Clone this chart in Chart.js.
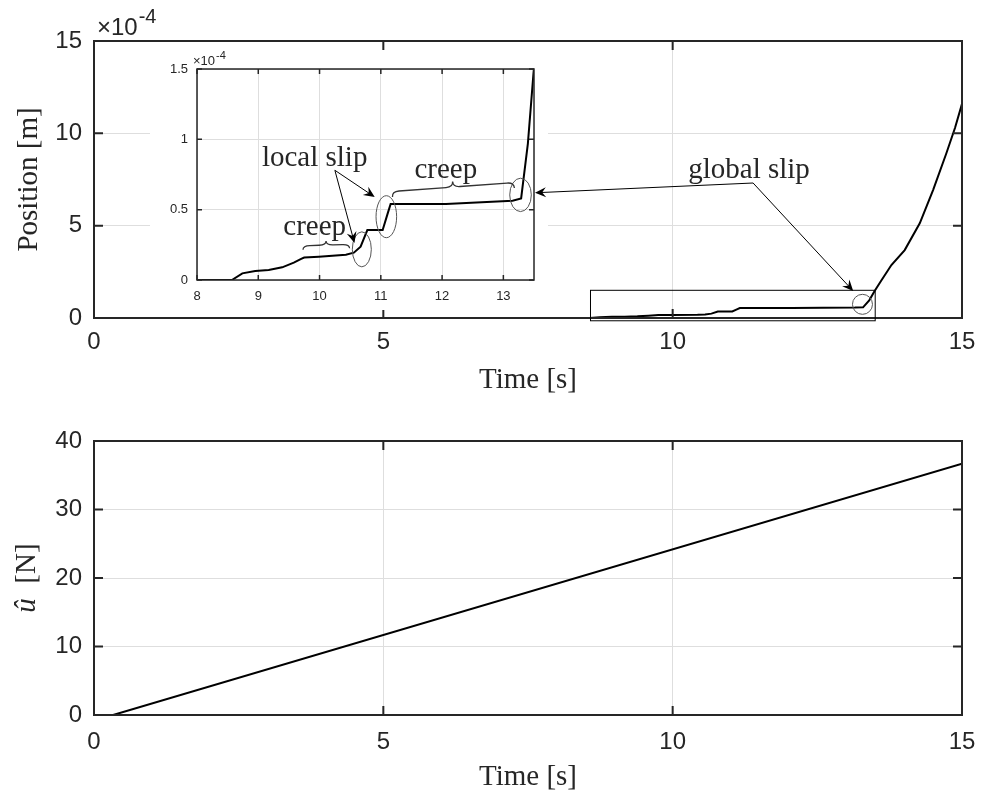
<!DOCTYPE html>
<html>
<head>
<meta charset="utf-8">
<script src="https://cdn.jsdelivr.net/npm/chart.js@4.4.1/dist/chart.umd.min.js"></script>
<style>
  body { margin: 0; background: #fff; }
  #wrap { position: relative; width: 982px; height: 798px; }
  canvas { position: absolute; left: 0; }
</style>
</head>
<body>
<div id="wrap">
  <canvas id="posChart" width="982" height="400" style="top:0"></canvas>
  <canvas id="zoomChart" width="982" height="400" style="top:0"></canvas>
  <canvas id="forceChart" width="982" height="398" style="top:400px"></canvas>
</div>
<script>
// measured block position, in units of 1e-4 m
const timeS = [0, 8.57, 8.74, 8.95, 9.17, 9.39, 9.58, 9.70, 9.75, 9.99, 10.43, 10.56, 10.67, 10.78,
  11.03, 11.11, 11.16, 12.06, 13.15, 13.29, 13.40, 13.49, 13.60, 13.78, 14.01, 14.27, 14.50, 14.73, 14.88, 15.0];
const position = [0, 0, 0.047, 0.064, 0.071, 0.09, 0.123, 0.15, 0.16, 0.166, 0.18, 0.194, 0.237, 0.355,
  0.355, 0.47, 0.54, 0.54, 0.564, 0.58, 0.97, 1.46, 2.0, 2.87, 3.68, 5.13, 6.93, 8.92, 10.3, 11.6];

// applied force ramp
const forceTime = [0, 0.33, 15];
const forceN = [0, 0, 36.7];

const timeTicks = [0, 5, 10, 15];
const posTicks = [0, 5, 10, 15];
const forceTicks = [0, 10, 20, 30, 40];
const zoomTimeTicks = [8, 9, 10, 11, 12, 13];
const zoomPosTicks = [0, 0.5, 1, 1.5];

const AXIS = '#262626';
const GRID = '#dedede';
const SANS = '"Liberation Sans", Arial, sans-serif';
const SERIF = '"Liberation Serif", "Times New Roman", serif';

const pts = (xs, ys) => xs.map((x, i) => ({ x, y: ys[i] }));

function axis(min, max, ticks, size, fontSize, pad, extra) {
  return Object.assign({
    type: 'linear', min, max,
    afterBuildTicks: s => { s.ticks = ticks.map(v => ({ value: v })); },
    afterFit: s => {
      if (s.isHorizontal()) s.height = size; else s.width = size;
      // plot box is fixed by the layout padding, labels may hang over
      s.paddingLeft = s.paddingRight = s.paddingTop = s.paddingBottom = 0;
    },
    grid: { color: GRID, lineWidth: 1, drawTicks: false },
    border: { display: false },
    ticks: { color: AXIS, padding: pad, font: { family: SANS, size: fontSize }, callback: v => String(v) }
  }, extra || {});
}

// box with inward ticks on all four sides
const boxPlugin = {
  id: 'box',
  afterDatasetsDraw(chart, args, opts) {
    const { ctx, chartArea: a, scales: { x, y } } = chart;
    const len = opts.tick;
    ctx.save();
    ctx.strokeStyle = AXIS;
    ctx.lineWidth = opts.width;
    ctx.beginPath();
    x.ticks.forEach(t => {
      const px = x.getPixelForValue(t.value);
      ctx.moveTo(px, a.bottom); ctx.lineTo(px, a.bottom - len);
      ctx.moveTo(px, a.top); ctx.lineTo(px, a.top + len);
    });
    y.ticks.forEach(t => {
      const py = y.getPixelForValue(t.value);
      ctx.moveTo(a.left, py); ctx.lineTo(a.left + len, py);
      ctx.moveTo(a.right, py); ctx.lineTo(a.right - len, py);
    });
    ctx.stroke();
    ctx.strokeRect(a.left, a.top, a.width, a.height);
    if (opts.exp) {
      const e = opts.exp;
      ctx.fillStyle = AXIS;
      ctx.textBaseline = 'alphabetic';
      ctx.font = e.size + 'px ' + SANS;
      ctx.fillText('\u00d710', a.left + e.dx, a.top - e.dy);
      const w = ctx.measureText('\u00d710').width;
      ctx.font = Math.round(e.size * 0.82) + 'px ' + SANS;
      ctx.fillText('-4', a.left + e.dx + w + 1, a.top - e.dy - e.size * 0.5);
    }
    ctx.restore();
  }
};

function lineSet(xs, ys) {
  return { data: pts(xs, ys), borderColor: '#000', borderWidth: 2, pointRadius: 0, tension: 0 };
}

const common = {
  animation: false, responsive: false, events: [],
  plugins: { legend: { display: false }, tooltip: { enabled: false } }
};

const posChart = new Chart(document.getElementById('posChart'), {
  type: 'line',
  data: { datasets: [lineSet(timeS, position)] },
  options: Object.assign({}, common, {
    layout: { padding: { left: 0, top: 41, right: 20, bottom: 0 } },
    plugins: Object.assign({}, common.plugins, { box: { tick: 9, width: 2, exp: { size: 24, dx: 3, dy: 6 } } }),
    scales: {
      x: axis(0, 15, timeTicks, 82, 24, 10, {
        title: { display: true, text: 'Time [s]', color: AXIS, padding: { top: 0, bottom: 2 }, font: { family: SERIF, size: 29 } }
      }),
      y: axis(0, 15, posTicks, 94, 24, 12, {
        title: { display: true, text: 'Position [m]', color: AXIS, padding: { top: 12, bottom: 0 }, font: { family: SERIF, size: 29 } }
      })
    }
  }),
  plugins: [boxPlugin]
});

function arrow(ctx, x1, y1, x2, y2, head) {
  const ang = Math.atan2(y2 - y1, x2 - x1);
  ctx.beginPath();
  ctx.moveTo(x1, y1);
  ctx.lineTo(x2 - Math.cos(ang) * head * 0.6, y2 - Math.sin(ang) * head * 0.6);
  ctx.stroke();
  ctx.save();
  ctx.translate(x2, y2);
  ctx.rotate(ang);
  ctx.beginPath();
  ctx.moveTo(0, 0);
  ctx.lineTo(-head, -head * 0.45);
  ctx.lineTo(-head * 0.65, 0);
  ctx.lineTo(-head, head * 0.45);
  ctx.closePath();
  ctx.fill();
  ctx.restore();
}

// curly brace from (x1,y1) to (x2,y2); the tip points to the left of the travel direction
function brace(ctx, x1, y1, x2, y2, h) {
  const L = Math.hypot(x2 - x1, y2 - y1);
  const q = Math.min(7, L / 6);
  ctx.save();
  ctx.translate(x1, y1);
  ctx.rotate(Math.atan2(y2 - y1, x2 - x1));
  ctx.beginPath();
  ctx.moveTo(0, 0);
  ctx.quadraticCurveTo(0, -h / 2, q, -h / 2);
  ctx.lineTo(L / 2 - q, -h / 2);
  ctx.quadraticCurveTo(L / 2, -h / 2, L / 2, -h);
  ctx.quadraticCurveTo(L / 2, -h / 2, L / 2 + q, -h / 2);
  ctx.lineTo(L - q, -h / 2);
  ctx.quadraticCurveTo(L, -h / 2, L, 0);
  ctx.stroke();
  ctx.restore();
}

function ellipse(ctx, x, y, rx, ry) {
  ctx.beginPath();
  ctx.ellipse(x, y, rx, ry, 0, 0, Math.PI * 2);
  ctx.stroke();
}

// zoomed view of the creep / slip phase, plus the callouts
const zoomPlugin = {
  id: 'zoomNotes',
  beforeDraw(chart) {
    const { ctx, chartArea: a } = chart;
    ctx.save();
    ctx.fillStyle = '#fff';
    ctx.fillRect(a.left - 47, a.top - 19, a.width + 61, a.height + 49);
    ctx.restore();
  },
  afterDraw(chart) {
    const { ctx, scales: { x: ix, y: iy } } = chart;
    const mx = posChart.scales.x, my = posChart.scales.y;
    const X = v => ix.getPixelForValue(v), Y = v => iy.getPixelForValue(v);
    const MX = v => mx.getPixelForValue(v), MY = v => my.getPixelForValue(v);
    ctx.save();

    // region marker on the main axes
    ctx.strokeStyle = '#000';
    ctx.lineWidth = 1;
    ctx.strokeRect(MX(8.58), MY(1.5), MX(13.5) - MX(8.58), MY(-0.15) - MY(1.5));
    ctx.strokeStyle = '#555';
    ellipse(ctx, MX(13.28), MY(0.74), 10, 10);

    // slip / creep marks inside the zoom
    ellipse(ctx, X(10.69), Y(0.218), 9.5, 17.5);
    ellipse(ctx, X(11.09), Y(0.45), 10.3, 21);
    ellipse(ctx, X(13.28), Y(0.605), 10.8, 16.7);

    ctx.strokeStyle = '#333';
    ctx.lineWidth = 1.3;
    brace(ctx, X(9.73), Y(0.215), X(10.49), Y(0.225), 8);
    brace(ctx, X(11.19), Y(0.59), X(13.18), Y(0.654), 11);

    ctx.fillStyle = AXIS;
    ctx.font = '29px ' + SERIF;
    ctx.textAlign = 'center';
    ctx.textBaseline = 'alphabetic';
    ctx.fillText('local slip', X(9.92), Y(0.81));
    ctx.fillText('creep', X(9.92), Y(0.32));
    ctx.fillText('creep', X(12.06), Y(0.725));
    ctx.fillText('global slip', MX(11.32), MY(7.58));

    ctx.strokeStyle = '#000';
    ctx.fillStyle = '#000';
    ctx.lineWidth = 1;
    arrow(ctx, X(10.25), Y(0.78), X(10.57), Y(0.263), 11);
    arrow(ctx, X(10.25), Y(0.78), X(10.90), Y(0.59), 11);
    arrow(ctx, MX(11.39), MY(7.31), MX(13.12), MY(1.46), 11);
    arrow(ctx, MX(11.39), MY(7.31), ix.right + 1, Y(0.62), 11);
    ctx.restore();
  }
};

new Chart(document.getElementById('zoomChart'), {
  type: 'line',
  data: { datasets: [lineSet(timeS, position)] },
  options: Object.assign({}, common, {
    layout: { padding: { left: 150, top: 69, right: 448, bottom: 90 } },
    plugins: Object.assign({}, common.plugins, { box: { tick: 5, width: 1.5, exp: { size: 13, dx: -4, dy: 4 } } }),
    scales: {
      x: axis(8, 13.5, zoomTimeTicks, 30, 13, 9),
      y: axis(0, 1.5, zoomPosTicks, 47, 13, 9)
    }
  }),
  plugins: [boxPlugin, zoomPlugin]
});

// y label with the hat accent: italic u, upright unit
const hatLabel = {
  id: 'hatLabel',
  afterDraw(chart) {
    const { ctx, chartArea: a } = chart;
    ctx.save();
    ctx.translate(27, (a.top + a.bottom) / 2);
    ctx.rotate(-Math.PI / 2);
    ctx.fillStyle = AXIS;
    ctx.textBaseline = 'middle';
    ctx.font = 'italic 29px ' + SERIF;
    const w1 = ctx.measureText('\u00fb').width;
    ctx.font = '29px ' + SERIF;
    const w2 = ctx.measureText('  [N]').width;
    let x0 = -(w1 + w2) / 2;
    ctx.font = 'italic 29px ' + SERIF;
    ctx.fillText('\u00fb', x0, 0);
    ctx.font = '29px ' + SERIF;
    ctx.fillText('  [N]', x0 + w1, 0);
    ctx.restore();
  }
};

new Chart(document.getElementById('forceChart'), {
  type: 'line',
  data: { datasets: [lineSet(forceTime, forceN)] },
  options: Object.assign({}, common, {
    layout: { padding: { left: 0, top: 41, right: 20, bottom: 0 } },
    plugins: Object.assign({}, common.plugins, { box: { tick: 9, width: 2 } }),
    scales: {
      x: axis(0, 15, timeTicks, 83, 24, 13, {
        title: { display: true, text: 'Time [s]', color: AXIS, padding: { top: 0, bottom: 3 }, font: { family: SERIF, size: 29 } }
      }),
      y: axis(0, 40, forceTicks, 94, 24, 12)
    }
  }),
  plugins: [boxPlugin, hatLabel]
});
</script>
</body>
</html>
